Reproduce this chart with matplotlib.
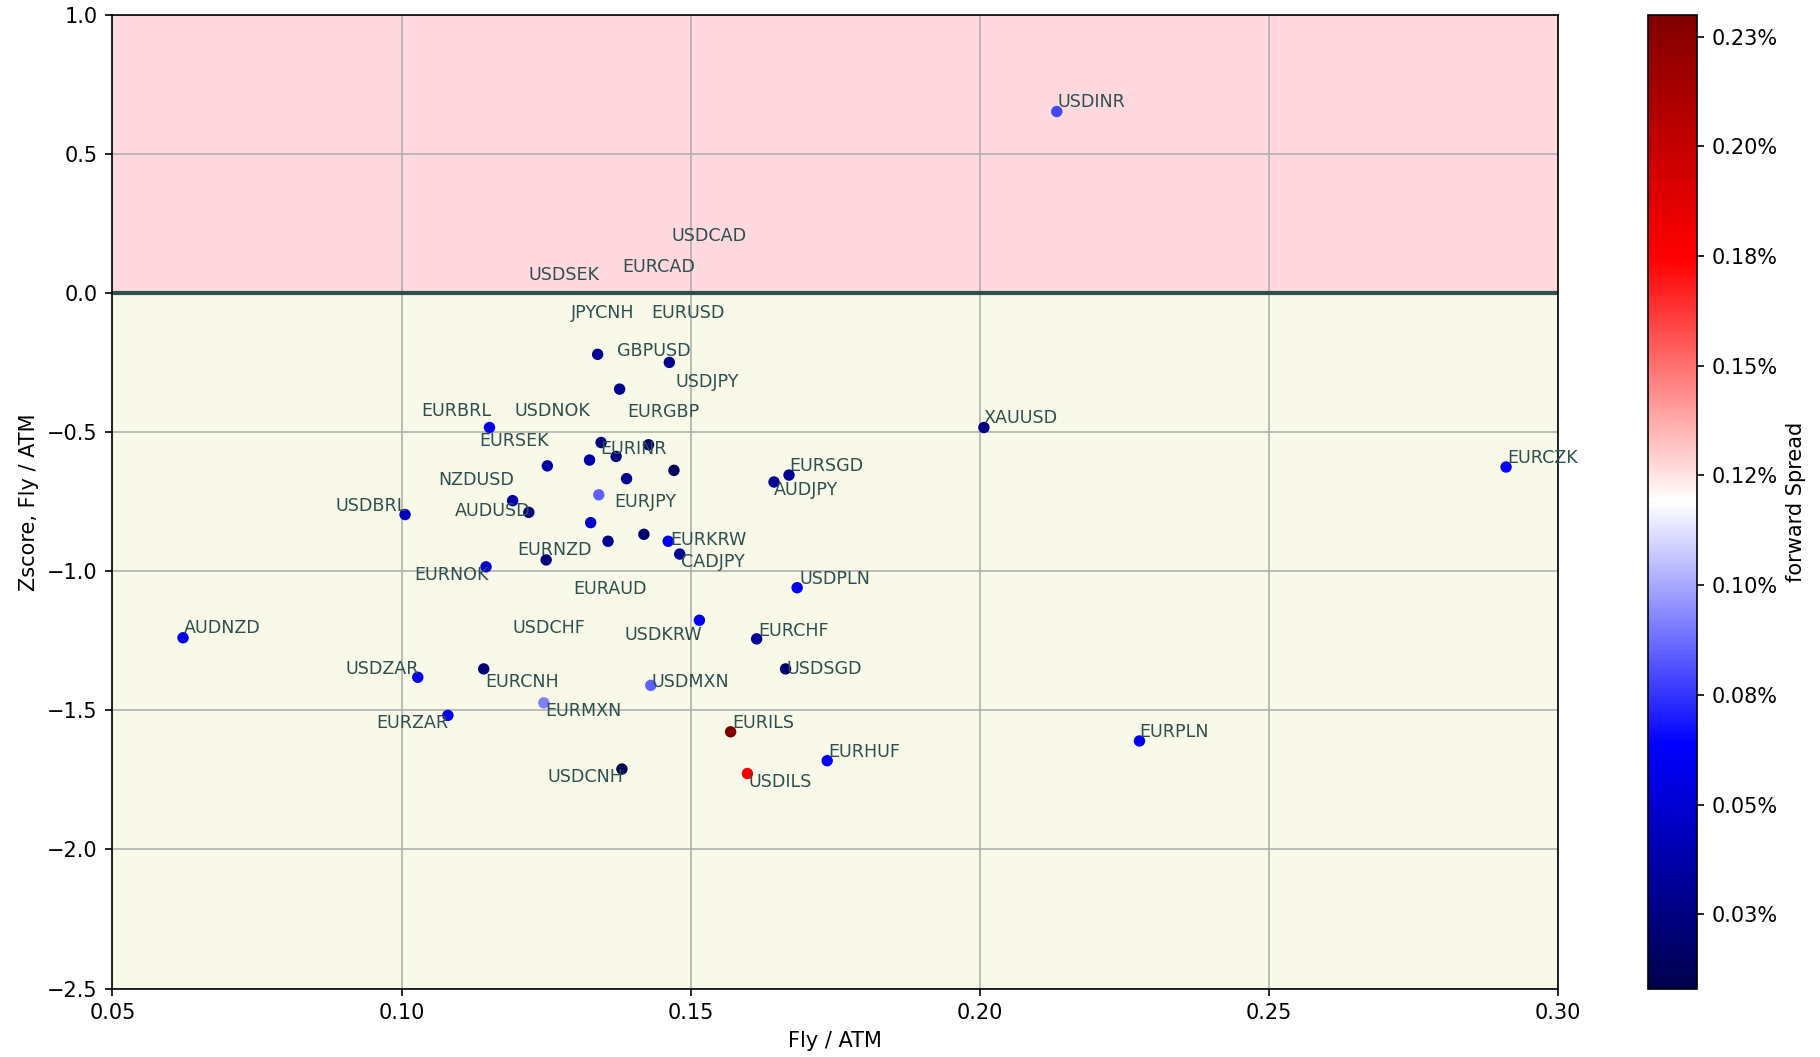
import matplotlib
matplotlib.use("Agg")
import matplotlib.pyplot as plt

# currency pairs, fly/atm, zscore, forward spread (%)
pairs = ["USDINR", "XAUUSD", "EURCZK", "AUDNZD", "GBPUSD", "USDJPY", "EURGBP",
         "EURBRL", "EURINR", "EURCAD", "JPYCNH", "USDSEK", "EURSEK", "USDCAD",
         "EURUSD", "AUDJPY", "EURSGD", "NZDUSD", "EURJPY", "AUDUSD", "USDBRL",
         "USDNOK", "EURAUD", "USDCHF", "EURKRW", "CADJPY", "EURNZD", "EURNOK",
         "USDPLN", "USDKRW", "EURCHF", "USDSGD", "USDZAR", "EURCNH", "USDMXN",
         "EURMXN", "EURZAR", "EURILS", "EURPLN", "EURHUF", "USDCNH", "USDILS"]
fly_atm = [0.2133, 0.2007, 0.2910, 0.0622, 0.1339, 0.1463, 0.1377,
           0.1152, 0.1345, 0.1427, 0.1371, 0.1325, 0.1252, 0.1471,
           0.1389, 0.1644, 0.1670, 0.1192, 0.1341, 0.1220, 0.1006,
           0.1327, 0.1419, 0.1357, 0.1461, 0.1481, 0.1250, 0.1146,
           0.1684, 0.1515, 0.1614, 0.1664, 0.1028, 0.1142, 0.1431,
           0.1246, 0.1080, 0.1569, 0.2276, 0.1736, 0.1381, 0.1598]
zscore = [0.653, -0.483, -0.625, -1.239, -0.220, -0.249, -0.345,
          -0.483, -0.537, -0.545, -0.587, -0.600, -0.621, -0.637,
          -0.667, -0.679, -0.654, -0.746, -0.725, -0.788, -0.796,
          -0.825, -0.867, -0.892, -0.892, -0.938, -0.959, -0.984,
          -1.059, -1.176, -1.243, -1.351, -1.381, -1.351, -1.410,
          -1.473, -1.518, -1.577, -1.610, -1.681, -1.711, -1.727]
fwd_spread = [0.079, 0.025, 0.061, 0.058, 0.030, 0.028, 0.030,
              0.055, 0.022, 0.020, 0.022, 0.038, 0.036, 0.012,
              0.030, 0.030, 0.030, 0.037, 0.085, 0.022, 0.045,
              0.047, 0.020, 0.030, 0.062, 0.030, 0.022, 0.050,
              0.058, 0.058, 0.030, 0.020, 0.058, 0.020, 0.085,
              0.092, 0.058, 0.2299, 0.060, 0.062, 0.0081, 0.177]

# where the (de-overlapped) labels ended up
label_x = [0.2135, 0.2007, 0.2912, 0.0624, 0.1373, 0.1473, 0.1391,
           0.1034, 0.1343, 0.1381, 0.1293, 0.1220, 0.1134, 0.1467,
           0.1431, 0.1644, 0.1670, 0.1064, 0.1367, 0.1092, 0.0885,
           0.1196, 0.1297, 0.1192, 0.1465, 0.1483, 0.1200, 0.1022,
           0.1688, 0.1385, 0.1616, 0.1666, 0.0903, 0.1144, 0.1433,
           0.1248, 0.0957, 0.1571, 0.2276, 0.1738, 0.1252, 0.1600]
label_y = [0.687, -0.449, -0.591, -1.205, -0.207, -0.320, -0.428,
           -0.424, -0.562, 0.094, -0.073, 0.064, -0.533, 0.206,
           -0.073, -0.708, -0.621, -0.671, -0.750, -0.783, -0.767,
           -0.424, -1.063, -1.205, -0.888, -0.967, -0.925, -1.013,
           -1.026, -1.230, -1.214, -1.351, -1.351, -1.397, -1.397,
           -1.502, -1.544, -1.544, -1.577, -1.648, -1.740, -1.757]

cbar_ticks = [0.025, 0.05, 0.075, 0.1, 0.125, 0.15, 0.175, 0.2, 0.225]
cbar_labels = ["0.03%", "0.05%", "0.08%", "0.10%", "0.12%", "0.15%",
               "0.18%", "0.20%", "0.23%"]

fig = plt.figure(figsize=(1820 / 150, 1057 / 150), dpi=150)
ax = fig.add_axes([0.0618, 0.0648, 0.7943, 0.921])
cax = fig.add_axes([0.9055, 0.0648, 0.0269, 0.921])

ax.axhspan(0, 1, color="pink", alpha=0.6, lw=0, zorder=0)
ax.axhspan(-2.5, 0, color="beige", alpha=0.6, lw=0, zorder=0)
ax.axhline(0, color="darkslategray", lw=2, zorder=2)
ax.grid(True)

sc = ax.scatter(fly_atm, zscore, c=fwd_spread, cmap="seismic", s=20, zorder=3)
for name, tx, ty in zip(pairs, label_x, label_y):
    ax.text(tx, ty, name, fontsize=8.4, color="darkslategray",
            ha="left", va="center", zorder=4)

ax.set_xlim(0.05, 0.30)
ax.set_ylim(-2.5, 1.0)
ax.set_xlabel("Fly / ATM")
ax.set_ylabel("Zscore, Fly / ATM")

cb = fig.colorbar(sc, cax=cax)
cb.set_ticks(cbar_ticks)
cb.set_ticklabels(cbar_labels)
cb.set_label("forward Spread")

fig.savefig("out.png", dpi=150)
